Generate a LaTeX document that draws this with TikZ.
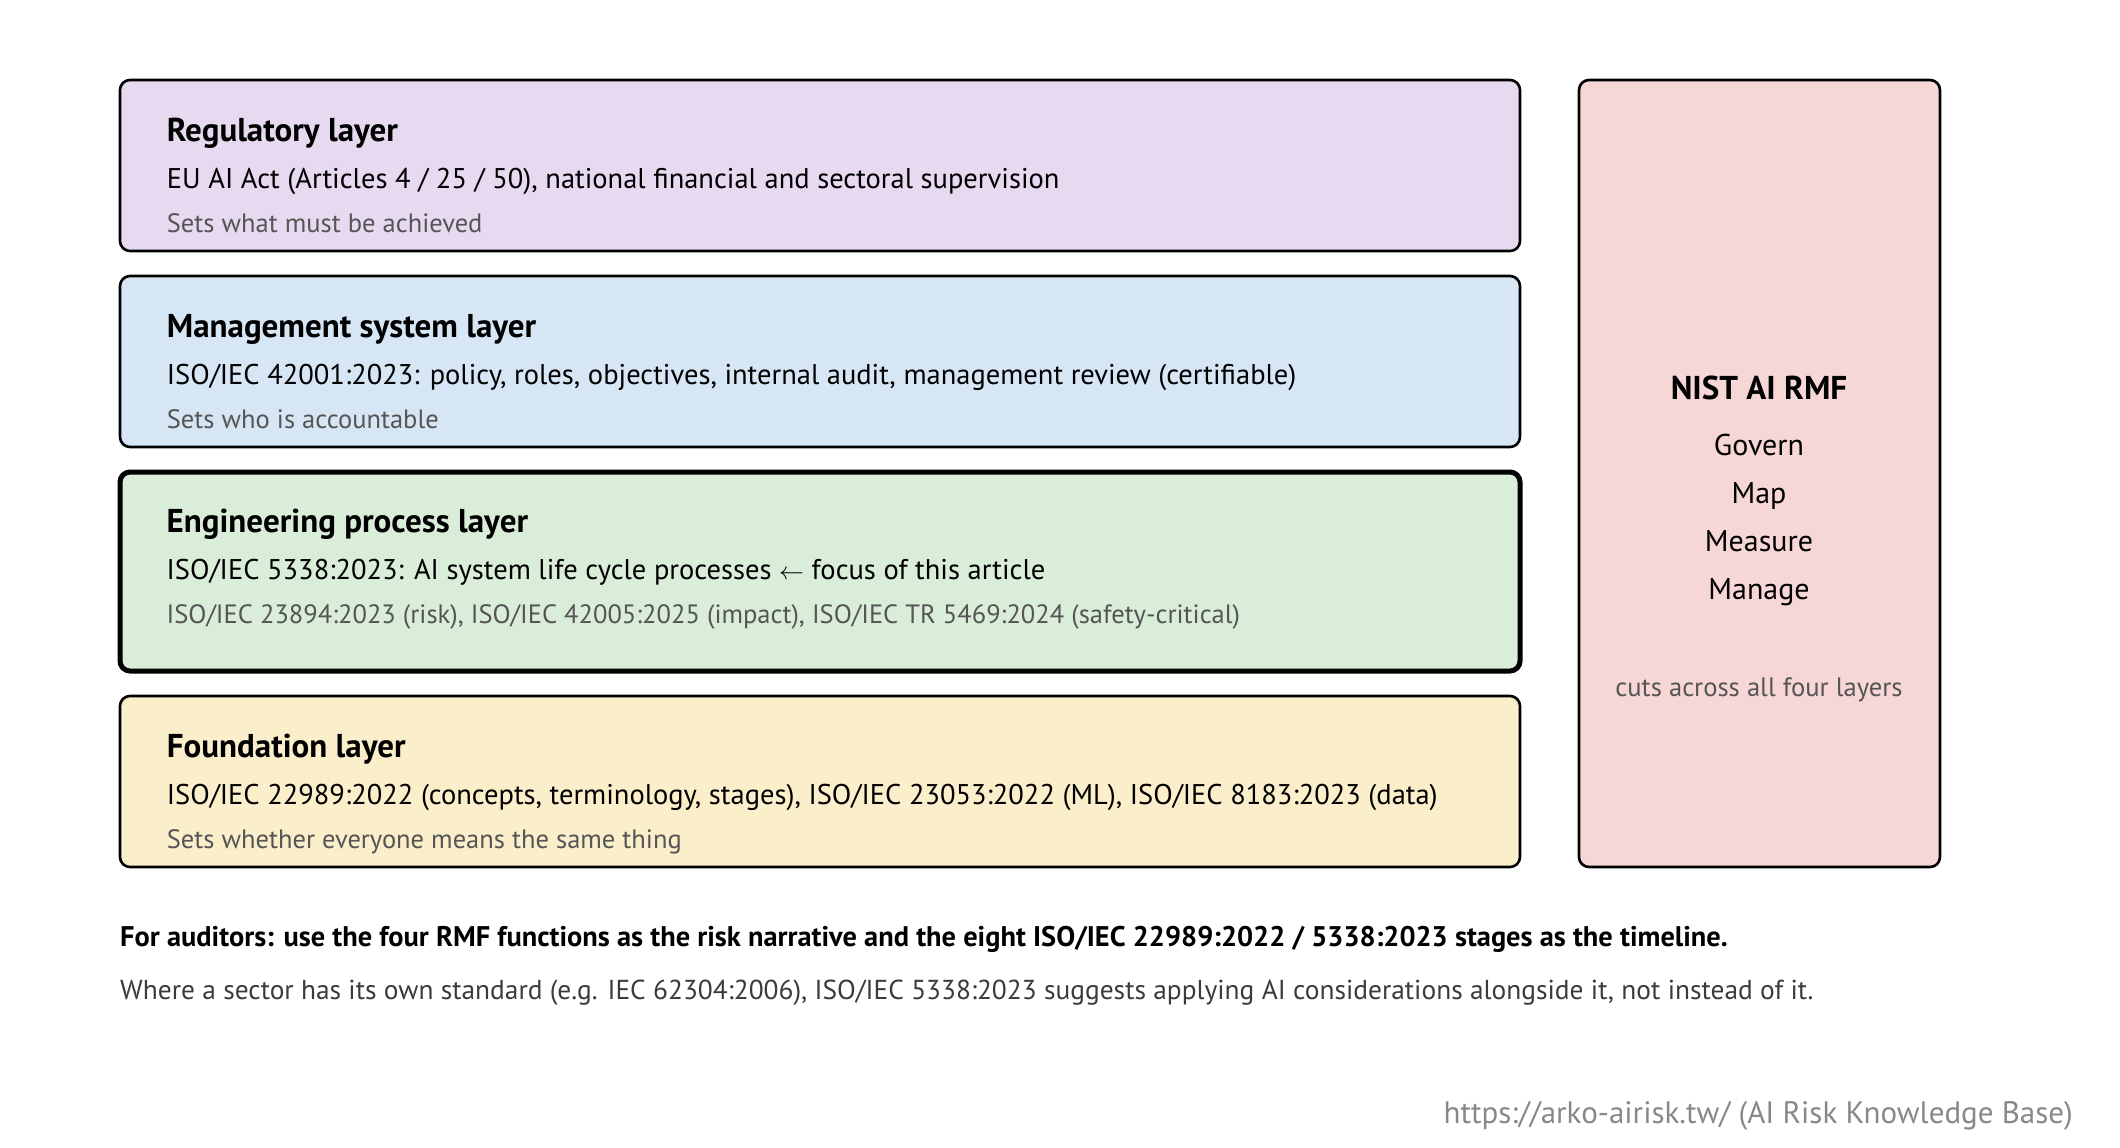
\documentclass[tikz,border=0pt]{standalone}
\usepackage{fontspec}
\setmainfont{PT Sans}
\usepackage{tikz}
\usetikzlibrary{positioning}

\definecolor{regfill}{HTML}{E6D9F0}
\definecolor{mgmtfill}{HTML}{D6E6F4}
\definecolor{engfill}{HTML}{D9EDD9}
\definecolor{fndfill}{HTML}{FAEECB}
\definecolor{nistfill}{HTML}{F7D6D6}
\definecolor{subgray}{HTML}{555555}
\definecolor{urlgray}{HTML}{888888}

\begin{document}
\begin{tikzpicture}[x=1pt, y=-1pt]
  \tikzstyle{layer} = [draw, line width=2.6pt, rounded corners=10pt, minimum width=1400pt, minimum height=171pt, inner sep=0pt]
  \tikzstyle{head} = [anchor=base west, inner sep=0pt, font=\fontsize{33}{38}\selectfont\bfseries]
  \tikzstyle{body} = [anchor=base west, inner sep=0pt, font=\fontsize{28.5}{34}\selectfont]
  \tikzstyle{note} = [anchor=base west, inner sep=0pt, text=subgray, font=\fontsize{26.5}{31}\selectfont]
  \tikzstyle{rmf} = [anchor=base, inner sep=0pt, font=\fontsize{30}{36}\selectfont]
  \useasboundingbox[fill=white] (0,0) rectangle (2120,1148);

  % Define layers
  \node[layer, fill=regfill] (reg) at (820,165.5) {};
  \node[layer, fill=mgmtfill] (mgmt) at (820,361.5) {};
  \node[layer, fill=engfill, line width=5pt, minimum height=199pt] (eng) at (820,571.5) {};
  \node[layer, fill=fndfill] (fnd) at (820,781.5) {};
  \node[layer, fill=nistfill, minimum width=361pt, minimum height=787pt] (nist) at (1759.5,473.5) {};

  % Layer texts
  \node[head] (regH) at ([xshift=48pt, yshift=-63pt]reg.north west) {Regulatory layer};
  \node[body, below=46.5pt of regH.base west, anchor=base west] (regB) {EU AI Act (Articles 4 / 25 / 50), national financial and sectoral supervision};
  \node[note, below=44.5pt of regB.base west, anchor=base west] (regN) {Sets what must be achieved};

  \node[head] (mgmtH) at ([xshift=48pt, yshift=-63pt]mgmt.north west) {Management system layer};
  \node[body, below=46.5pt of mgmtH.base west, anchor=base west] (mgmtB) {ISO/IEC 42001:2023: policy, roles, objectives, internal audit, management review (certifiable)};
  \node[note, below=44.5pt of mgmtB.base west, anchor=base west] (mgmtN) {Sets who is accountable};

  \node[head] (engH) at ([xshift=49pt, yshift=-63pt]eng.north west) {Engineering process layer};
  \node[body, below=46.5pt of engH.base west, anchor=base west] (engB) {ISO/IEC 5338:2023: AI system life cycle processes \(\leftarrow\) focus of this article};
  \node[note, below=44.5pt of engB.base west, anchor=base west] (engN) {ISO/IEC 23894:2023 (risk), ISO/IEC 42005:2025 (impact), ISO/IEC TR 5469:2024 (safety-critical)};

  \node[head] (fndH) at ([xshift=48pt, yshift=-63pt]fnd.north west) {Foundation layer};
  \node[body, below=47pt of fndH.base west, anchor=base west] (fndB) {ISO/IEC 22989:2022 (concepts, terminology, stages), ISO/IEC 23053:2022 (ML), ISO/IEC 8183:2023 (data)};
  \node[note, below=44pt of fndB.base west, anchor=base west] (fndN) {Sets whether everyone means the same thing};

  % RMF column
  \node[rmf, font=\fontsize{33}{38}\selectfont\bfseries] (rmfT) at (1759,399) {NIST AI RMF};
  \node[rmf, below=56pt of rmfT.base, anchor=base] (gov) {Govern};
  \node[rmf, below=48pt of gov.base, anchor=base] (map) {Map};
  \node[rmf, below=48pt of map.base, anchor=base] (meas) {Measure};
  \node[rmf, below=48pt of meas.base, anchor=base] (man) {Manage};
  \node[rmf, text=subgray, font=\fontsize{26.6}{31}\selectfont, below=97pt of man.base, anchor=base] (cuts) {cuts across all four layers};

  % Footer
  \node[head, font=\fontsize{28.4}{33}\selectfont\bfseries] (aud) at (120,946) {For auditors: use the four RMF functions as the risk narrative and the eight ISO/IEC 22989:2022 / 5338:2023 stages as the timeline.};
  \node[body, text=subgray!70!black, font=\fontsize{27.4}{32}\selectfont, below=53pt of aud.base west, anchor=base west] (sect) {Where a sector has its own standard (e.g. IEC 62304:2006), ISO/IEC 5338:2023 suggests applying AI considerations alongside it, not instead of it.};
  \node[inner sep=0pt, anchor=base east, text=urlgray, font=\fontsize{31}{36}\selectfont] (url) at (2073,1123) {https://arko-airisk.tw/ (AI Risk Knowledge Base)};
\end{tikzpicture}
\end{document}
